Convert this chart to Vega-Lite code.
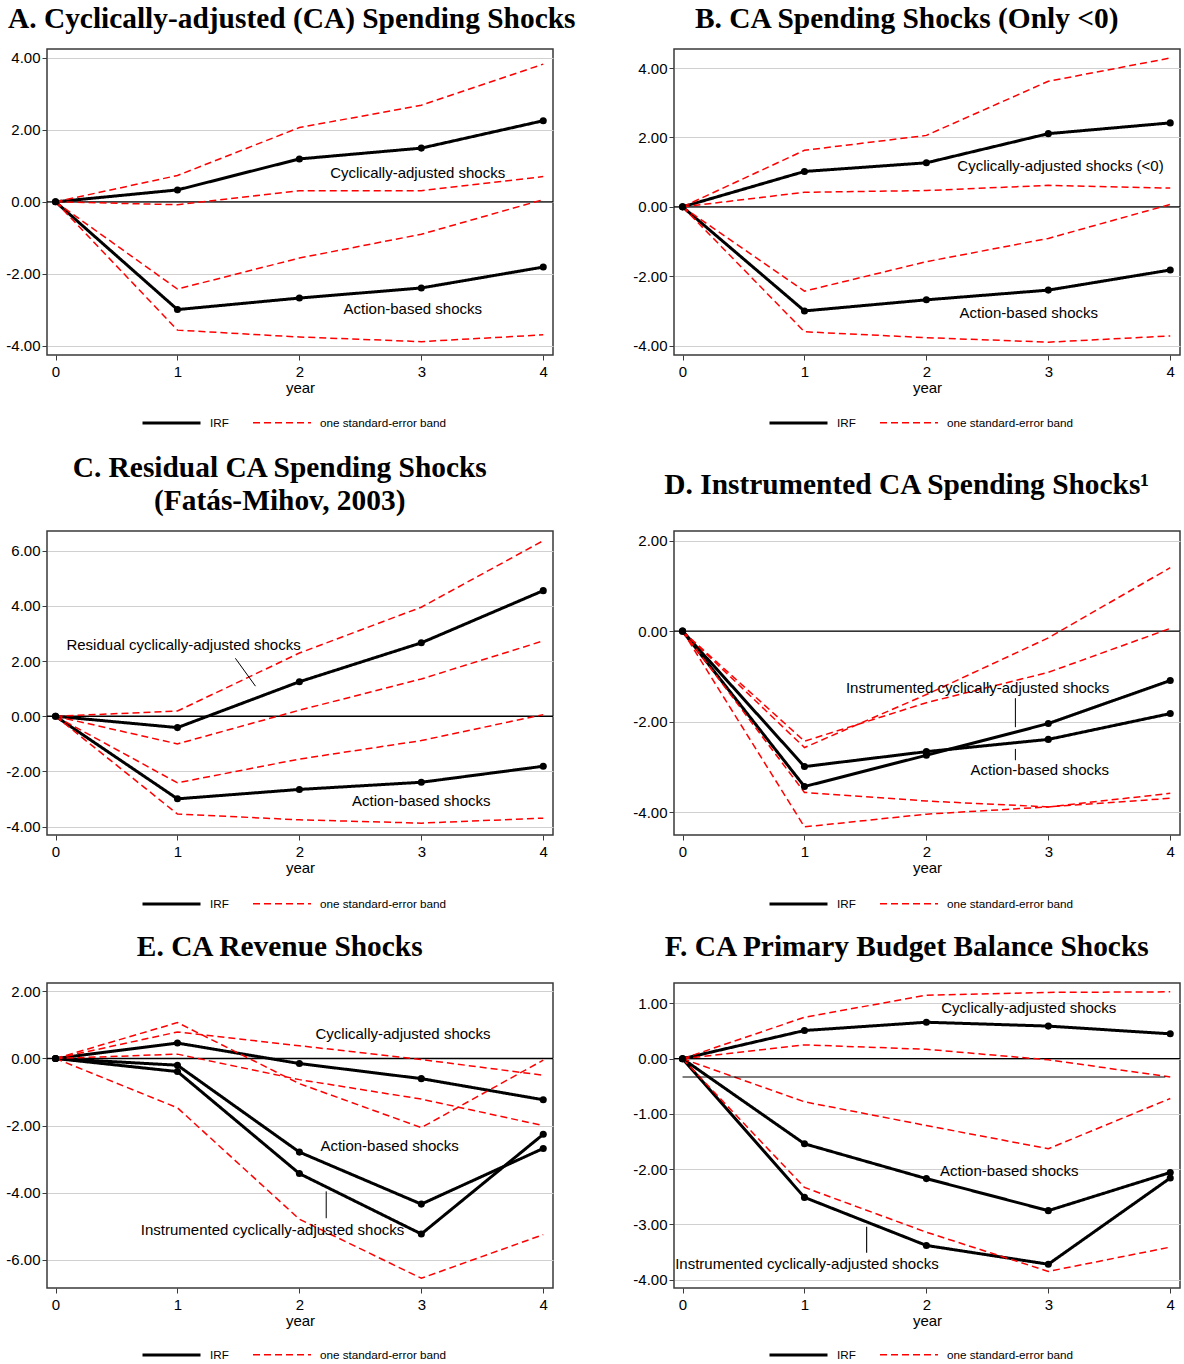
{
"$schema": "https://vega.github.io/schema/vega-lite/v6.json",
"background": "white",
"padding": {"left": 5, "top": 2, "right": 2, "bottom": 0},
"config": {
 "font": "Liberation Sans",
 "view": {"stroke": "#3a3a3a", "strokeWidth": 1.5},
 "title": {"font": "Liberation Serif", "fontSize": 29.4, "fontWeight": "bold", "color": "black", "anchor": "middle", "frame": "bounds", "offset": 15, "lineHeight": 33},
 "axis": {"labelFont": "Liberation Sans", "labelFontSize": 15, "labelColor": "black", "titleFont": "Liberation Sans", "titleFontSize": 15, "titleFontWeight": "normal", "titleColor": "black", "tickColor": "#3a3a3a", "tickSize": 5, "tickWidth": 1, "domain": false, "gridColor": "#d0d0d0", "gridWidth": 1.2},
 "axisX": {"grid": false, "labelPadding": 4, "titlePadding": 1, "labelAngle": 0, "labelFlush": false},
 "axisY": {"grid": true, "title": null, "format": ".2f", "labelPadding": 2, "labelExpr": "replace(datum.label, '\u2212', '-')"},
 "legend": {"labelFont": "Liberation Sans", "labelFontSize": 11.7, "labelColor": "black", "symbolType": "stroke", "symbolSize": 3364, "labelOffset": 8, "columnPadding": 21, "padding": 0}
},
"datasets": {
 "lines": [
  {"p":"A","id":"ca","s":"IRF","x":0,"y":0},{"p":"A","id":"ca","s":"IRF","x":1,"y":0.33},{"p":"A","id":"ca","s":"IRF","x":2,"y":1.19},{"p":"A","id":"ca","s":"IRF","x":3,"y":1.49},{"p":"A","id":"ca","s":"IRF","x":4,"y":2.25},
  {"p":"A","id":"cau","s":"one standard-error band","x":0,"y":0},{"p":"A","id":"cau","s":"one standard-error band","x":1,"y":0.73},{"p":"A","id":"cau","s":"one standard-error band","x":2,"y":2.06},{"p":"A","id":"cau","s":"one standard-error band","x":3,"y":2.68},{"p":"A","id":"cau","s":"one standard-error band","x":4,"y":3.82},
  {"p":"A","id":"cal","s":"one standard-error band","x":0,"y":0},{"p":"A","id":"cal","s":"one standard-error band","x":1,"y":-0.08},{"p":"A","id":"cal","s":"one standard-error band","x":2,"y":0.31},{"p":"A","id":"cal","s":"one standard-error band","x":3,"y":0.31},{"p":"A","id":"cal","s":"one standard-error band","x":4,"y":0.70},
  {"p":"A","id":"ab","s":"IRF","x":0,"y":0},{"p":"A","id":"ab","s":"IRF","x":1,"y":-2.99},{"p":"A","id":"ab","s":"IRF","x":2,"y":-2.67},{"p":"A","id":"ab","s":"IRF","x":3,"y":-2.39},{"p":"A","id":"ab","s":"IRF","x":4,"y":-1.81},
  {"p":"A","id":"abu","s":"one standard-error band","x":0,"y":0},{"p":"A","id":"abu","s":"one standard-error band","x":1,"y":-2.42},{"p":"A","id":"abu","s":"one standard-error band","x":2,"y":-1.56},{"p":"A","id":"abu","s":"one standard-error band","x":3,"y":-0.90},{"p":"A","id":"abu","s":"one standard-error band","x":4,"y":0.06},
  {"p":"A","id":"abl","s":"one standard-error band","x":0,"y":0},{"p":"A","id":"abl","s":"one standard-error band","x":1,"y":-3.56},{"p":"A","id":"abl","s":"one standard-error band","x":2,"y":-3.75},{"p":"A","id":"abl","s":"one standard-error band","x":3,"y":-3.88},{"p":"A","id":"abl","s":"one standard-error band","x":4,"y":-3.69},

  {"p":"B","id":"ca","s":"IRF","x":0,"y":0},{"p":"B","id":"ca","s":"IRF","x":1,"y":1.02},{"p":"B","id":"ca","s":"IRF","x":2,"y":1.27},{"p":"B","id":"ca","s":"IRF","x":3,"y":2.11},{"p":"B","id":"ca","s":"IRF","x":4,"y":2.42},
  {"p":"B","id":"cau","s":"one standard-error band","x":0,"y":0},{"p":"B","id":"cau","s":"one standard-error band","x":1,"y":1.63},{"p":"B","id":"cau","s":"one standard-error band","x":2,"y":2.06},{"p":"B","id":"cau","s":"one standard-error band","x":3,"y":3.62},{"p":"B","id":"cau","s":"one standard-error band","x":4,"y":4.29},
  {"p":"B","id":"cal","s":"one standard-error band","x":0,"y":0},{"p":"B","id":"cal","s":"one standard-error band","x":1,"y":0.42},{"p":"B","id":"cal","s":"one standard-error band","x":2,"y":0.47},{"p":"B","id":"cal","s":"one standard-error band","x":3,"y":0.62},{"p":"B","id":"cal","s":"one standard-error band","x":4,"y":0.54},
  {"p":"B","id":"ab","s":"IRF","x":0,"y":0},{"p":"B","id":"ab","s":"IRF","x":1,"y":-3.0},{"p":"B","id":"ab","s":"IRF","x":2,"y":-2.68},{"p":"B","id":"ab","s":"IRF","x":3,"y":-2.40},{"p":"B","id":"ab","s":"IRF","x":4,"y":-1.82},
  {"p":"B","id":"abu","s":"one standard-error band","x":0,"y":0},{"p":"B","id":"abu","s":"one standard-error band","x":1,"y":-2.43},{"p":"B","id":"abu","s":"one standard-error band","x":2,"y":-1.58},{"p":"B","id":"abu","s":"one standard-error band","x":3,"y":-0.91},{"p":"B","id":"abu","s":"one standard-error band","x":4,"y":0.07},
  {"p":"B","id":"abl","s":"one standard-error band","x":0,"y":0},{"p":"B","id":"abl","s":"one standard-error band","x":1,"y":-3.60},{"p":"B","id":"abl","s":"one standard-error band","x":2,"y":-3.77},{"p":"B","id":"abl","s":"one standard-error band","x":3,"y":-3.90},{"p":"B","id":"abl","s":"one standard-error band","x":4,"y":-3.72},

  {"p":"C","id":"res","s":"IRF","x":0,"y":0},{"p":"C","id":"res","s":"IRF","x":1,"y":-0.41},{"p":"C","id":"res","s":"IRF","x":2,"y":1.25},{"p":"C","id":"res","s":"IRF","x":3,"y":2.66},{"p":"C","id":"res","s":"IRF","x":4,"y":4.55},
  {"p":"C","id":"resu","s":"one standard-error band","x":0,"y":0},{"p":"C","id":"resu","s":"one standard-error band","x":1,"y":0.19},{"p":"C","id":"resu","s":"one standard-error band","x":2,"y":2.29},{"p":"C","id":"resu","s":"one standard-error band","x":3,"y":3.95},{"p":"C","id":"resu","s":"one standard-error band","x":4,"y":6.36},
  {"p":"C","id":"resl","s":"one standard-error band","x":0,"y":0},{"p":"C","id":"resl","s":"one standard-error band","x":1,"y":-1.0},{"p":"C","id":"resl","s":"one standard-error band","x":2,"y":0.22},{"p":"C","id":"resl","s":"one standard-error band","x":3,"y":1.35},{"p":"C","id":"resl","s":"one standard-error band","x":4,"y":2.73},
  {"p":"C","id":"ab","s":"IRF","x":0,"y":0},{"p":"C","id":"ab","s":"IRF","x":1,"y":-2.99},{"p":"C","id":"ab","s":"IRF","x":2,"y":-2.65},{"p":"C","id":"ab","s":"IRF","x":3,"y":-2.39},{"p":"C","id":"ab","s":"IRF","x":4,"y":-1.81},
  {"p":"C","id":"abu","s":"one standard-error band","x":0,"y":0},{"p":"C","id":"abu","s":"one standard-error band","x":1,"y":-2.41},{"p":"C","id":"abu","s":"one standard-error band","x":2,"y":-1.55},{"p":"C","id":"abu","s":"one standard-error band","x":3,"y":-0.88},{"p":"C","id":"abu","s":"one standard-error band","x":4,"y":0.06},
  {"p":"C","id":"abl","s":"one standard-error band","x":0,"y":0},{"p":"C","id":"abl","s":"one standard-error band","x":1,"y":-3.54},{"p":"C","id":"abl","s":"one standard-error band","x":2,"y":-3.75},{"p":"C","id":"abl","s":"one standard-error band","x":3,"y":-3.87},{"p":"C","id":"abl","s":"one standard-error band","x":4,"y":-3.69},

  {"p":"D","id":"ins","s":"IRF","x":0,"y":0},{"p":"D","id":"ins","s":"IRF","x":1,"y":-3.43},{"p":"D","id":"ins","s":"IRF","x":2,"y":-2.74},{"p":"D","id":"ins","s":"IRF","x":3,"y":-2.04},{"p":"D","id":"ins","s":"IRF","x":4,"y":-1.09},
  {"p":"D","id":"ab","s":"IRF","x":0,"y":0},{"p":"D","id":"ab","s":"IRF","x":1,"y":-2.99},{"p":"D","id":"ab","s":"IRF","x":2,"y":-2.66},{"p":"D","id":"ab","s":"IRF","x":3,"y":-2.39},{"p":"D","id":"ab","s":"IRF","x":4,"y":-1.82},
  {"p":"D","id":"insu","s":"one standard-error band","x":0,"y":0},{"p":"D","id":"insu","s":"one standard-error band","x":1,"y":-2.57},{"p":"D","id":"insu","s":"one standard-error band","x":2,"y":-1.40},{"p":"D","id":"insu","s":"one standard-error band","x":3,"y":-0.15},{"p":"D","id":"insu","s":"one standard-error band","x":4,"y":1.40},
  {"p":"D","id":"abu","s":"one standard-error band","x":0,"y":0},{"p":"D","id":"abu","s":"one standard-error band","x":1,"y":-2.43},{"p":"D","id":"abu","s":"one standard-error band","x":2,"y":-1.58},{"p":"D","id":"abu","s":"one standard-error band","x":3,"y":-0.91},{"p":"D","id":"abu","s":"one standard-error band","x":4,"y":0.06},
  {"p":"D","id":"abl","s":"one standard-error band","x":0,"y":0},{"p":"D","id":"abl","s":"one standard-error band","x":1,"y":-3.56},{"p":"D","id":"abl","s":"one standard-error band","x":2,"y":-3.75},{"p":"D","id":"abl","s":"one standard-error band","x":3,"y":-3.88},{"p":"D","id":"abl","s":"one standard-error band","x":4,"y":-3.69},
  {"p":"D","id":"insl","s":"one standard-error band","x":0,"y":0},{"p":"D","id":"insl","s":"one standard-error band","x":1,"y":-4.32},{"p":"D","id":"insl","s":"one standard-error band","x":2,"y":-4.04},{"p":"D","id":"insl","s":"one standard-error band","x":3,"y":-3.88},{"p":"D","id":"insl","s":"one standard-error band","x":4,"y":-3.58},

  {"p":"E","id":"ca","s":"IRF","x":0,"y":0},{"p":"E","id":"ca","s":"IRF","x":1,"y":0.46},{"p":"E","id":"ca","s":"IRF","x":2,"y":-0.15},{"p":"E","id":"ca","s":"IRF","x":3,"y":-0.60},{"p":"E","id":"ca","s":"IRF","x":4,"y":-1.23},
  {"p":"E","id":"ab","s":"IRF","x":0,"y":0},{"p":"E","id":"ab","s":"IRF","x":1,"y":-0.20},{"p":"E","id":"ab","s":"IRF","x":2,"y":-2.79},{"p":"E","id":"ab","s":"IRF","x":3,"y":-4.34},{"p":"E","id":"ab","s":"IRF","x":4,"y":-2.68},
  {"p":"E","id":"ins","s":"IRF","x":0,"y":0},{"p":"E","id":"ins","s":"IRF","x":1,"y":-0.39},{"p":"E","id":"ins","s":"IRF","x":2,"y":-3.43},{"p":"E","id":"ins","s":"IRF","x":3,"y":-5.23},{"p":"E","id":"ins","s":"IRF","x":4,"y":-2.26},
  {"p":"E","id":"b1","s":"one standard-error band","x":0,"y":0},{"p":"E","id":"b1","s":"one standard-error band","x":1,"y":1.07},{"p":"E","id":"b1","s":"one standard-error band","x":2,"y":-0.75},{"p":"E","id":"b1","s":"one standard-error band","x":3,"y":-2.06},{"p":"E","id":"b1","s":"one standard-error band","x":4,"y":-0.05},
  {"p":"E","id":"b2","s":"one standard-error band","x":0,"y":0},{"p":"E","id":"b2","s":"one standard-error band","x":1,"y":0.79},{"p":"E","id":"b2","s":"one standard-error band","x":2,"y":0.38},{"p":"E","id":"b2","s":"one standard-error band","x":3,"y":-0.03},{"p":"E","id":"b2","s":"one standard-error band","x":4,"y":-0.50},
  {"p":"E","id":"b3","s":"one standard-error band","x":0,"y":0},{"p":"E","id":"b3","s":"one standard-error band","x":1,"y":0.13},{"p":"E","id":"b3","s":"one standard-error band","x":2,"y":-0.63},{"p":"E","id":"b3","s":"one standard-error band","x":3,"y":-1.21},{"p":"E","id":"b3","s":"one standard-error band","x":4,"y":-2.0},
  {"p":"E","id":"b4","s":"one standard-error band","x":0,"y":0},{"p":"E","id":"b4","s":"one standard-error band","x":1,"y":-1.47},{"p":"E","id":"b4","s":"one standard-error band","x":2,"y":-4.79},{"p":"E","id":"b4","s":"one standard-error band","x":3,"y":-6.55},{"p":"E","id":"b4","s":"one standard-error band","x":4,"y":-5.25},

  {"p":"F","id":"ca","s":"IRF","x":0,"y":0},{"p":"F","id":"ca","s":"IRF","x":1,"y":0.51},{"p":"F","id":"ca","s":"IRF","x":2,"y":0.66},{"p":"F","id":"ca","s":"IRF","x":3,"y":0.59},{"p":"F","id":"ca","s":"IRF","x":4,"y":0.45},
  {"p":"F","id":"cau","s":"one standard-error band","x":0,"y":0},{"p":"F","id":"cau","s":"one standard-error band","x":1,"y":0.75},{"p":"F","id":"cau","s":"one standard-error band","x":2,"y":1.15},{"p":"F","id":"cau","s":"one standard-error band","x":3,"y":1.20},{"p":"F","id":"cau","s":"one standard-error band","x":4,"y":1.21},
  {"p":"F","id":"cal","s":"one standard-error band","x":0,"y":0},{"p":"F","id":"cal","s":"one standard-error band","x":1,"y":0.25},{"p":"F","id":"cal","s":"one standard-error band","x":2,"y":0.17},{"p":"F","id":"cal","s":"one standard-error band","x":3,"y":-0.02},{"p":"F","id":"cal","s":"one standard-error band","x":4,"y":-0.33},
  {"p":"F","id":"ab","s":"IRF","x":0,"y":0},{"p":"F","id":"ab","s":"IRF","x":1,"y":-1.54},{"p":"F","id":"ab","s":"IRF","x":2,"y":-2.17},{"p":"F","id":"ab","s":"IRF","x":3,"y":-2.75},{"p":"F","id":"ab","s":"IRF","x":4,"y":-2.06},
  {"p":"F","id":"abu","s":"one standard-error band","x":0,"y":0},{"p":"F","id":"abu","s":"one standard-error band","x":1,"y":-0.78},{"p":"F","id":"abu","s":"one standard-error band","x":2,"y":-1.21},{"p":"F","id":"abu","s":"one standard-error band","x":3,"y":-1.63},{"p":"F","id":"abu","s":"one standard-error band","x":4,"y":-0.72},
  {"p":"F","id":"ins","s":"IRF","x":0,"y":0},{"p":"F","id":"ins","s":"IRF","x":1,"y":-2.51},{"p":"F","id":"ins","s":"IRF","x":2,"y":-3.38},{"p":"F","id":"ins","s":"IRF","x":3,"y":-3.72},{"p":"F","id":"ins","s":"IRF","x":4,"y":-2.16},
  {"p":"F","id":"insb","s":"one standard-error band","x":0,"y":0},{"p":"F","id":"insb","s":"one standard-error band","x":1,"y":-2.33},{"p":"F","id":"insb","s":"one standard-error band","x":2,"y":-3.14},{"p":"F","id":"insb","s":"one standard-error band","x":3,"y":-3.85},{"p":"F","id":"insb","s":"one standard-error band","x":4,"y":-3.41}
 ],
 "labels": [
  {"p":"A","x":2.97,"y":0.81,"t":"Cyclically-adjusted shocks"},
  {"p":"A","x":2.93,"y":-2.97,"t":"Action-based shocks"},
  {"p":"B","x":3.10,"y":1.18,"t":"Cyclically-adjusted shocks (<0)"},
  {"p":"B","x":2.84,"y":-3.06,"t":"Action-based shocks"},
  {"p":"C","x":1.05,"y":2.57,"t":"Residual cyclically-adjusted shocks"},
  {"p":"C","x":3.0,"y":-3.08,"t":"Action-based shocks"},
  {"p":"D","x":2.42,"y":-1.26,"t":"Instrumented cyclically-adjusted shocks"},
  {"p":"D","x":2.93,"y":-3.07,"t":"Action-based shocks"},
  {"p":"E","x":2.85,"y":0.74,"t":"Cyclically-adjusted shocks"},
  {"p":"E","x":2.74,"y":-2.62,"t":"Action-based shocks"},
  {"p":"E","x":1.78,"y":-5.12,"t":"Instrumented cyclically-adjusted shocks"},
  {"p":"F","x":2.84,"y":0.92,"t":"Cyclically-adjusted shocks"},
  {"p":"F","x":2.68,"y":-2.03,"t":"Action-based shocks"},
  {"p":"F","x":1.02,"y":-3.71,"t":"Instrumented cyclically-adjusted shocks"}
 ],
 "ptr": [
  {"p":"C","x":1.475,"y":2.10,"x2":1.64,"y2":1.09},
  {"p":"D","x":2.73,"y":-1.48,"x2":2.73,"y2":-2.12},
  {"p":"D","x":2.73,"y":-2.60,"x2":2.73,"y2":-2.85},
  {"p":"E","x":2.22,"y":-3.96,"x2":2.22,"y2":-4.76},
  {"p":"F","x":1.51,"y":-3.04,"x2":1.51,"y2":-3.51},
  {"p":"F","x":0,"y":-0.33,"x2":3.96,"y2":-0.33}
 ]
},
"vconcat": [
 {
  "vconcat": [
   {
    "hconcat": [
     {
      "title": {"text": "A. Cyclically-adjusted (CA) Spending Shocks", "dx": 12},
      "width": 506, "height": 306,
      "layer": [
       {"data": {"values": [{"y": 0}]}, "mark": {"type": "rule", "color": "black", "strokeWidth": 1.3},
        "encoding": {"y": {"field": "y", "type": "quantitative", "scale": {"domain": [-4.25, 4.24], "nice": false, "zero": false}, "axis": {"values": [-4, -2, 0, 2, 4]}}}},
       {"data": {"name": "lines"}, "transform": [{"filter": "datum.p == 'A'"}], "mark": {"type": "line"},
        "encoding": {
         "x": {"field": "x", "type": "quantitative", "scale": {"domain": [-0.07, 4.08], "nice": false, "zero": false}, "axis": {"values": [0, 1, 2, 3, 4], "format": "d", "title": "year"}},
         "y": {"field": "y", "type": "quantitative", "scale": {"domain": [-4.25, 4.24], "nice": false, "zero": false}},
         "detail": {"field": "id"},
         "color": {"field": "s", "type": "nominal", "scale": {"domain": ["IRF", "one standard-error band"], "range": ["#000000", "#ff0000"]}, "legend": {"title": null, "orient": "none", "legendX": 94, "legendY": 343, "direction": "horizontal"}},
         "strokeDash": {"field": "s", "type": "nominal", "scale": {"domain": ["IRF", "one standard-error band"], "range": [[1, 0], [7, 4]]}, "legend": {"title": null, "orient": "none", "legendX": 94, "legendY": 343, "direction": "horizontal"}},
         "strokeWidth": {"field": "s", "type": "nominal", "scale": {"domain": ["IRF", "one standard-error band"], "range": [3, 1.5]}, "legend": {"title": null, "orient": "none", "legendX": 94, "legendY": 343, "direction": "horizontal"}}
        }},
       {"data": {"name": "lines"}, "transform": [{"filter": "datum.p == 'A' && datum.s == 'IRF'"}], "mark": {"type": "circle", "size": 50, "opacity": 1, "color": "black"},
        "encoding": {"x": {"field": "x", "type": "quantitative", "scale": {"domain": [-0.07, 4.08], "nice": false, "zero": false}}, "y": {"field": "y", "type": "quantitative", "scale": {"domain": [-4.25, 4.24], "nice": false, "zero": false}}}},
       {"data": {"name": "labels"}, "transform": [{"filter": "datum.p == 'A'"}], "mark": {"type": "text", "font": "Liberation Sans", "fontSize": 15, "color": "black", "align": "center", "baseline": "middle"},
        "encoding": {"x": {"field": "x", "type": "quantitative", "scale": {"domain": [-0.07, 4.08], "nice": false, "zero": false}}, "y": {"field": "y", "type": "quantitative", "scale": {"domain": [-4.25, 4.24], "nice": false, "zero": false}}, "text": {"field": "t"}}}
      ]
     },
     {
      "title": {"text": "B. CA Spending Shocks (Only <0)"},
      "width": 506, "height": 306,
      "layer": [
       {"data": {"values": [{"y": 0}]}, "mark": {"type": "rule", "color": "black", "strokeWidth": 1.3},
        "encoding": {"y": {"field": "y", "type": "quantitative", "scale": {"domain": [-4.27, 4.55], "nice": false, "zero": false}, "axis": {"values": [-4, -2, 0, 2, 4]}}}},
       {"data": {"name": "lines"}, "transform": [{"filter": "datum.p == 'B'"}], "mark": {"type": "line"},
        "encoding": {
         "x": {"field": "x", "type": "quantitative", "scale": {"domain": [-0.07, 4.08], "nice": false, "zero": false}, "axis": {"values": [0, 1, 2, 3, 4], "format": "d", "title": "year"}},
         "y": {"field": "y", "type": "quantitative", "scale": {"domain": [-4.27, 4.55], "nice": false, "zero": false}},
         "detail": {"field": "id"},
         "color": {"field": "s", "type": "nominal", "scale": {"domain": ["IRF", "one standard-error band"], "range": ["#000000", "#ff0000"]}, "legend": {"title": null, "orient": "none", "legendX": 94, "legendY": 343, "direction": "horizontal"}},
         "strokeDash": {"field": "s", "type": "nominal", "scale": {"domain": ["IRF", "one standard-error band"], "range": [[1, 0], [7, 4]]}, "legend": {"title": null, "orient": "none", "legendX": 94, "legendY": 343, "direction": "horizontal"}},
         "strokeWidth": {"field": "s", "type": "nominal", "scale": {"domain": ["IRF", "one standard-error band"], "range": [3, 1.5]}, "legend": {"title": null, "orient": "none", "legendX": 94, "legendY": 343, "direction": "horizontal"}}
        }},
       {"data": {"name": "lines"}, "transform": [{"filter": "datum.p == 'B' && datum.s == 'IRF'"}], "mark": {"type": "circle", "size": 50, "opacity": 1, "color": "black"},
        "encoding": {"x": {"field": "x", "type": "quantitative", "scale": {"domain": [-0.07, 4.08], "nice": false, "zero": false}}, "y": {"field": "y", "type": "quantitative", "scale": {"domain": [-4.27, 4.55], "nice": false, "zero": false}}}},
       {"data": {"name": "labels"}, "transform": [{"filter": "datum.p == 'B'"}], "mark": {"type": "text", "font": "Liberation Sans", "fontSize": 15, "color": "black", "align": "center", "baseline": "middle"},
        "encoding": {"x": {"field": "x", "type": "quantitative", "scale": {"domain": [-0.07, 4.08], "nice": false, "zero": false}}, "y": {"field": "y", "type": "quantitative", "scale": {"domain": [-4.27, 4.55], "nice": false, "zero": false}}, "text": {"field": "t"}}}
      ]
     }
    ],
    "spacing": 121, "bounds": "flush",
    "resolve": {"scale": {"x": "independent", "y": "independent", "color": "independent", "strokeDash": "independent", "strokeWidth": "independent"}, "legend": {"color": "independent", "strokeDash": "independent", "strokeWidth": "independent"}}
   },
   {
    "hconcat": [
     {
      "title": {"text": ["C. Residual CA Spending Shocks", "(Fatás-Mihov, 2003)"]},
      "width": 506, "height": 304,
      "layer": [
       {"data": {"values": [{"y": 0}]}, "mark": {"type": "rule", "color": "black", "strokeWidth": 1.3},
        "encoding": {"y": {"field": "y", "type": "quantitative", "scale": {"domain": [-4.3, 6.71], "nice": false, "zero": false}, "axis": {"values": [-4, -2, 0, 2, 4, 6]}}}},
       {"data": {"name": "lines"}, "transform": [{"filter": "datum.p == 'C'"}], "mark": {"type": "line"},
        "encoding": {
         "x": {"field": "x", "type": "quantitative", "scale": {"domain": [-0.07, 4.08], "nice": false, "zero": false}, "axis": {"values": [0, 1, 2, 3, 4], "format": "d", "title": "year"}},
         "y": {"field": "y", "type": "quantitative", "scale": {"domain": [-4.3, 6.71], "nice": false, "zero": false}},
         "detail": {"field": "id"},
         "color": {"field": "s", "type": "nominal", "scale": {"domain": ["IRF", "one standard-error band"], "range": ["#000000", "#ff0000"]}, "legend": {"title": null, "orient": "none", "legendX": 94, "legendY": 342, "direction": "horizontal"}},
         "strokeDash": {"field": "s", "type": "nominal", "scale": {"domain": ["IRF", "one standard-error band"], "range": [[1, 0], [7, 4]]}, "legend": {"title": null, "orient": "none", "legendX": 94, "legendY": 342, "direction": "horizontal"}},
         "strokeWidth": {"field": "s", "type": "nominal", "scale": {"domain": ["IRF", "one standard-error band"], "range": [3, 1.5]}, "legend": {"title": null, "orient": "none", "legendX": 94, "legendY": 342, "direction": "horizontal"}}
        }},
       {"data": {"name": "lines"}, "transform": [{"filter": "datum.p == 'C' && datum.s == 'IRF'"}], "mark": {"type": "circle", "size": 50, "opacity": 1, "color": "black"},
        "encoding": {"x": {"field": "x", "type": "quantitative", "scale": {"domain": [-0.07, 4.08], "nice": false, "zero": false}}, "y": {"field": "y", "type": "quantitative", "scale": {"domain": [-4.3, 6.71], "nice": false, "zero": false}}}},
       {"data": {"name": "labels"}, "transform": [{"filter": "datum.p == 'C'"}], "mark": {"type": "text", "font": "Liberation Sans", "fontSize": 15, "color": "black", "align": "center", "baseline": "middle"},
        "encoding": {"x": {"field": "x", "type": "quantitative", "scale": {"domain": [-0.07, 4.08], "nice": false, "zero": false}}, "y": {"field": "y", "type": "quantitative", "scale": {"domain": [-4.3, 6.71], "nice": false, "zero": false}}, "text": {"field": "t"}}},
       {"data": {"name": "ptr"}, "transform": [{"filter": "datum.p == 'C'"}], "mark": {"type": "rule", "color": "black", "strokeWidth": 1},
        "encoding": {"x": {"field": "x", "type": "quantitative", "scale": {"domain": [-0.07, 4.08], "nice": false, "zero": false}}, "y": {"field": "y", "type": "quantitative", "scale": {"domain": [-4.3, 6.71], "nice": false, "zero": false}}, "x2": {"field": "x2"}, "y2": {"field": "y2"}}}
      ]
     },
     {
      "title": {"text": "D. Instrumented CA Spending Shocks¹", "offset": 31},
      "width": 506, "height": 304,
      "layer": [
       {"data": {"values": [{"y": 0}]}, "mark": {"type": "rule", "color": "black", "strokeWidth": 1.3},
        "encoding": {"y": {"field": "y", "type": "quantitative", "scale": {"domain": [-4.5, 2.21], "nice": false, "zero": false}, "axis": {"values": [-4, -2, 0, 2]}}}},
       {"data": {"name": "lines"}, "transform": [{"filter": "datum.p == 'D'"}], "mark": {"type": "line"},
        "encoding": {
         "x": {"field": "x", "type": "quantitative", "scale": {"domain": [-0.07, 4.08], "nice": false, "zero": false}, "axis": {"values": [0, 1, 2, 3, 4], "format": "d", "title": "year"}},
         "y": {"field": "y", "type": "quantitative", "scale": {"domain": [-4.5, 2.21], "nice": false, "zero": false}},
         "detail": {"field": "id"},
         "color": {"field": "s", "type": "nominal", "scale": {"domain": ["IRF", "one standard-error band"], "range": ["#000000", "#ff0000"]}, "legend": {"title": null, "orient": "none", "legendX": 94, "legendY": 342, "direction": "horizontal"}},
         "strokeDash": {"field": "s", "type": "nominal", "scale": {"domain": ["IRF", "one standard-error band"], "range": [[1, 0], [7, 4]]}, "legend": {"title": null, "orient": "none", "legendX": 94, "legendY": 342, "direction": "horizontal"}},
         "strokeWidth": {"field": "s", "type": "nominal", "scale": {"domain": ["IRF", "one standard-error band"], "range": [3, 1.5]}, "legend": {"title": null, "orient": "none", "legendX": 94, "legendY": 342, "direction": "horizontal"}}
        }},
       {"data": {"name": "lines"}, "transform": [{"filter": "datum.p == 'D' && datum.s == 'IRF'"}], "mark": {"type": "circle", "size": 50, "opacity": 1, "color": "black"},
        "encoding": {"x": {"field": "x", "type": "quantitative", "scale": {"domain": [-0.07, 4.08], "nice": false, "zero": false}}, "y": {"field": "y", "type": "quantitative", "scale": {"domain": [-4.5, 2.21], "nice": false, "zero": false}}}},
       {"data": {"name": "labels"}, "transform": [{"filter": "datum.p == 'D'"}], "mark": {"type": "text", "font": "Liberation Sans", "fontSize": 15, "color": "black", "align": "center", "baseline": "middle"},
        "encoding": {"x": {"field": "x", "type": "quantitative", "scale": {"domain": [-0.07, 4.08], "nice": false, "zero": false}}, "y": {"field": "y", "type": "quantitative", "scale": {"domain": [-4.5, 2.21], "nice": false, "zero": false}}, "text": {"field": "t"}}},
       {"data": {"name": "ptr"}, "transform": [{"filter": "datum.p == 'D'"}], "mark": {"type": "rule", "color": "black", "strokeWidth": 1},
        "encoding": {"x": {"field": "x", "type": "quantitative", "scale": {"domain": [-0.07, 4.08], "nice": false, "zero": false}}, "y": {"field": "y", "type": "quantitative", "scale": {"domain": [-4.5, 2.21], "nice": false, "zero": false}}, "x2": {"field": "x2"}, "y2": {"field": "y2"}}}
      ]
     }
    ],
    "spacing": 121, "bounds": "flush",
    "resolve": {"scale": {"x": "independent", "y": "independent", "color": "independent", "strokeDash": "independent", "strokeWidth": "independent"}, "legend": {"color": "independent", "strokeDash": "independent", "strokeWidth": "independent"}}
   }
  ],
  "spacing": 20,
  "resolve": {"scale": {"x": "independent", "y": "independent", "color": "independent", "strokeDash": "independent", "strokeWidth": "independent"}, "legend": {"color": "independent", "strokeDash": "independent", "strokeWidth": "independent"}}
 },
 {
  "hconcat": [
   {
    "title": {"text": "E. CA Revenue Shocks", "offset": 21},
    "width": 506, "height": 305,
    "layer": [
     {"data": {"values": [{"y": 0}]}, "mark": {"type": "rule", "color": "black", "strokeWidth": 1.3},
      "encoding": {"y": {"field": "y", "type": "quantitative", "scale": {"domain": [-6.84, 2.25], "nice": false, "zero": false}, "axis": {"values": [-6, -4, -2, 0, 2]}}}},
     {"data": {"name": "lines"}, "transform": [{"filter": "datum.p == 'E'"}], "mark": {"type": "line"},
      "encoding": {
       "x": {"field": "x", "type": "quantitative", "scale": {"domain": [-0.07, 4.08], "nice": false, "zero": false}, "axis": {"values": [0, 1, 2, 3, 4], "format": "d", "title": "year"}},
       "y": {"field": "y", "type": "quantitative", "scale": {"domain": [-6.84, 2.25], "nice": false, "zero": false}},
       "detail": {"field": "id"},
       "color": {"field": "s", "type": "nominal", "scale": {"domain": ["IRF", "one standard-error band"], "range": ["#000000", "#ff0000"]}, "legend": {"title": null, "orient": "none", "legendX": 94, "legendY": 341, "direction": "horizontal"}},
       "strokeDash": {"field": "s", "type": "nominal", "scale": {"domain": ["IRF", "one standard-error band"], "range": [[1, 0], [7, 4]]}, "legend": {"title": null, "orient": "none", "legendX": 94, "legendY": 341, "direction": "horizontal"}},
       "strokeWidth": {"field": "s", "type": "nominal", "scale": {"domain": ["IRF", "one standard-error band"], "range": [3, 1.5]}, "legend": {"title": null, "orient": "none", "legendX": 94, "legendY": 341, "direction": "horizontal"}}
      }},
     {"data": {"name": "lines"}, "transform": [{"filter": "datum.p == 'E' && datum.s == 'IRF'"}], "mark": {"type": "circle", "size": 50, "opacity": 1, "color": "black"},
      "encoding": {"x": {"field": "x", "type": "quantitative", "scale": {"domain": [-0.07, 4.08], "nice": false, "zero": false}}, "y": {"field": "y", "type": "quantitative", "scale": {"domain": [-6.84, 2.25], "nice": false, "zero": false}}}},
     {"data": {"name": "labels"}, "transform": [{"filter": "datum.p == 'E'"}], "mark": {"type": "text", "font": "Liberation Sans", "fontSize": 15, "color": "black", "align": "center", "baseline": "middle"},
      "encoding": {"x": {"field": "x", "type": "quantitative", "scale": {"domain": [-0.07, 4.08], "nice": false, "zero": false}}, "y": {"field": "y", "type": "quantitative", "scale": {"domain": [-6.84, 2.25], "nice": false, "zero": false}}, "text": {"field": "t"}}},
     {"data": {"name": "ptr"}, "transform": [{"filter": "datum.p == 'E'"}], "mark": {"type": "rule", "color": "black", "strokeWidth": 1},
      "encoding": {"x": {"field": "x", "type": "quantitative", "scale": {"domain": [-0.07, 4.08], "nice": false, "zero": false}}, "y": {"field": "y", "type": "quantitative", "scale": {"domain": [-6.84, 2.25], "nice": false, "zero": false}}, "x2": {"field": "x2"}, "y2": {"field": "y2"}}}
    ]
   },
   {
    "title": {"text": "F. CA Primary Budget Balance Shocks", "offset": 21},
    "width": 506, "height": 305,
    "layer": [
     {"data": {"values": [{"y": 0}]}, "mark": {"type": "rule", "color": "black", "strokeWidth": 1.3},
      "encoding": {"y": {"field": "y", "type": "quantitative", "scale": {"domain": [-4.15, 1.37], "nice": false, "zero": false}, "axis": {"values": [-4, -3, -2, -1, 0, 1]}}}},
     {"data": {"name": "lines"}, "transform": [{"filter": "datum.p == 'F'"}], "mark": {"type": "line"},
      "encoding": {
       "x": {"field": "x", "type": "quantitative", "scale": {"domain": [-0.07, 4.08], "nice": false, "zero": false}, "axis": {"values": [0, 1, 2, 3, 4], "format": "d", "title": "year"}},
       "y": {"field": "y", "type": "quantitative", "scale": {"domain": [-4.15, 1.37], "nice": false, "zero": false}},
       "detail": {"field": "id"},
       "color": {"field": "s", "type": "nominal", "scale": {"domain": ["IRF", "one standard-error band"], "range": ["#000000", "#ff0000"]}, "legend": {"title": null, "orient": "none", "legendX": 94, "legendY": 341, "direction": "horizontal"}},
       "strokeDash": {"field": "s", "type": "nominal", "scale": {"domain": ["IRF", "one standard-error band"], "range": [[1, 0], [7, 4]]}, "legend": {"title": null, "orient": "none", "legendX": 94, "legendY": 341, "direction": "horizontal"}},
       "strokeWidth": {"field": "s", "type": "nominal", "scale": {"domain": ["IRF", "one standard-error band"], "range": [3, 1.5]}, "legend": {"title": null, "orient": "none", "legendX": 94, "legendY": 341, "direction": "horizontal"}}
      }},
     {"data": {"name": "lines"}, "transform": [{"filter": "datum.p == 'F' && datum.s == 'IRF'"}], "mark": {"type": "circle", "size": 50, "opacity": 1, "color": "black"},
      "encoding": {"x": {"field": "x", "type": "quantitative", "scale": {"domain": [-0.07, 4.08], "nice": false, "zero": false}}, "y": {"field": "y", "type": "quantitative", "scale": {"domain": [-4.15, 1.37], "nice": false, "zero": false}}}},
     {"data": {"name": "labels"}, "transform": [{"filter": "datum.p == 'F'"}], "mark": {"type": "text", "font": "Liberation Sans", "fontSize": 15, "color": "black", "align": "center", "baseline": "middle"},
      "encoding": {"x": {"field": "x", "type": "quantitative", "scale": {"domain": [-0.07, 4.08], "nice": false, "zero": false}}, "y": {"field": "y", "type": "quantitative", "scale": {"domain": [-4.15, 1.37], "nice": false, "zero": false}}, "text": {"field": "t"}}},
     {"data": {"name": "ptr"}, "transform": [{"filter": "datum.p == 'F'"}], "mark": {"type": "rule", "color": "black", "strokeWidth": 1.1},
      "encoding": {"x": {"field": "x", "type": "quantitative", "scale": {"domain": [-0.07, 4.08], "nice": false, "zero": false}}, "y": {"field": "y", "type": "quantitative", "scale": {"domain": [-4.15, 1.37], "nice": false, "zero": false}}, "x2": {"field": "x2"}, "y2": {"field": "y2"}}}
    ]
   }
  ],
  "spacing": 121, "bounds": "flush",
  "resolve": {"scale": {"x": "independent", "y": "independent", "color": "independent", "strokeDash": "independent", "strokeWidth": "independent"}, "legend": {"color": "independent", "strokeDash": "independent", "strokeWidth": "independent"}}
 }
],
"spacing": 18,
"resolve": {"scale": {"x": "independent", "y": "independent", "color": "independent", "strokeDash": "independent", "strokeWidth": "independent"}, "legend": {"color": "independent", "strokeDash": "independent", "strokeWidth": "independent"}}
}
